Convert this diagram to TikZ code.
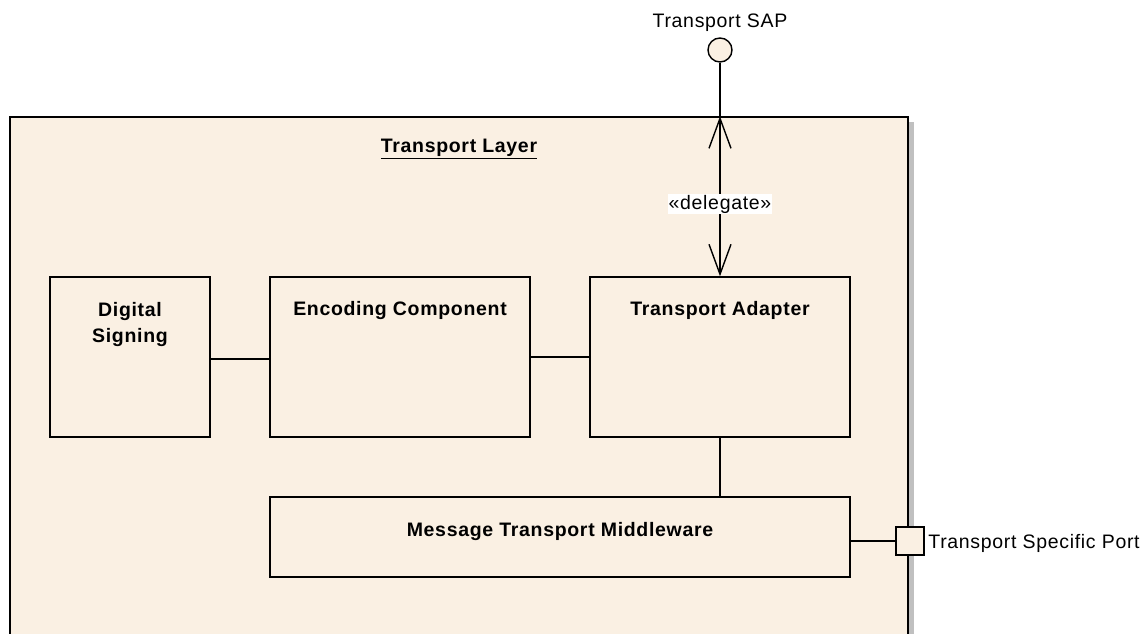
\documentclass[tikz,border=0pt]{standalone}
\usepackage{fontspec}
\setmainfont{Liberation Sans}[LetterSpace=3.5]
\usetikzlibrary{arrows.meta,shadows,calc}
\definecolor{compfill}{HTML}{FAF0E3}
\definecolor{shadowgray}{HTML}{C0C0C0}
\begin{document}
\begin{tikzpicture}[x=1pt,y=-1pt,
  font=\fontsize{19.5}{26}\selectfont,
  line width=1.4pt,
  comp/.style={draw=black, fill=compfill, rectangle, inner sep=0pt},
  inlabel/.style={anchor=center, align=center, font=\fontsize{19.5}{26}\selectfont\bfseries},
  barbtip/.tip={Straight Barb[length=30pt,width=22pt]},
  conn/.style={draw=black, line width=1.4pt}]
\useasboundingbox (0,0) rectangle (1146,634);
\clip (0,0) rectangle (1146,634);
% outer component
\node[comp, minimum width=898pt, minimum height=563pt,
      drop shadow={shadow xshift=6pt, shadow yshift=-5pt, opacity=1, fill=shadowgray},
      label={[inlabel, yshift=-33pt]north:\underline{Transport Layer}}]
  (layer) at (459,398.5) {};
% inner components
\node[comp, minimum width=160pt, minimum height=160pt,
      label={[inlabel, yshift=-48pt]north:Digital\\Signing}] (ds) at (130,357) {};
\node[comp, minimum width=260pt, minimum height=160pt,
      label={[inlabel, yshift=-34pt]north:Encoding Component}] (ec) at (400,357) {};
\node[comp, minimum width=260pt, minimum height=160pt,
      label={[inlabel, yshift=-34pt]north:Transport Adapter}] (ta) at (720,357) {};
\node[comp, minimum width=580pt, minimum height=80pt,
      label={[inlabel, yshift=-35pt]north:Message Transport Middleware}] (mtm) at (560,537) {};
% interface (SAP)
\node[draw=black, fill=compfill, circle, minimum size=24pt, inner sep=0pt,
      label={[anchor=center, yshift=15pt]north:Transport SAP}] (sap) at (720,50) {};
% port
\node[draw=black, fill=compfill, rectangle, minimum size=28pt, inner sep=0pt,
      label={[anchor=west, inner sep=3pt, yshift=-2pt]east:Transport Specific Port}] (port) at (910,541) {};
\coordinate (boxtop) at (layer.north -| ta.north);
% connectors
\draw[conn] (sap.south) -- (boxtop);
\draw[conn, barbtip-barbtip] (boxtop) -- node[pos=0.55, fill=white, inner sep=1pt]{«delegate»} (ta.north);
\draw[conn] ([yshift=-2pt]ds.east) -- ([yshift=-2pt]ec.west);
\draw[conn] (ec.east) -- (ta.west);
\draw[conn] (ta.south) -- (ta.south |- mtm.north);
\draw[conn] (mtm.east |- port.west) -- (port.west);
\end{tikzpicture}
\end{document}
